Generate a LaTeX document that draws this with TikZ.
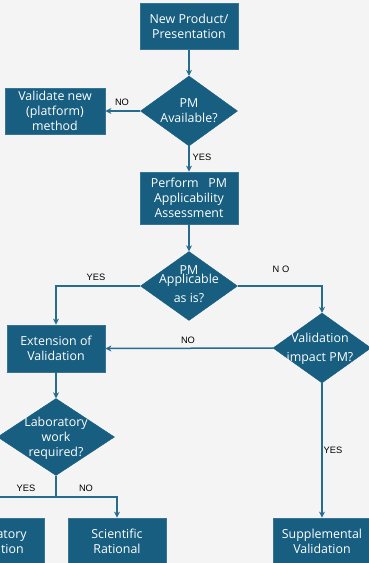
\documentclass[tikz,border=0pt]{standalone}
\usepackage{fontspec}
\setmainfont{Open Sans}
\newfontfamily\lblfont{Liberation Sans}
\usetikzlibrary{shapes.geometric,arrows.meta}
\definecolor{bg}{HTML}{F4F4F4}
\definecolor{boxfill}{HTML}{175E80}
\definecolor{boxline}{HTML}{3A7494}
\definecolor{conn}{HTML}{266C8E}
\tikzset{
  x=1pt, y=-1pt,
  box/.style={draw=boxline, line width=0.8pt, fill=boxfill, text=white, align=center,
    minimum width=98pt, minimum height=46pt, inner sep=0pt, font=\fontsize{12.4}{15}\selectfont},
  dia/.style={shape=diamond, fill=boxfill, draw=boxfill, inner sep=0pt},
  dtext/.style={text=white, align=center, font=\fontsize{12.4}{15}\selectfont},
  conn/.style={draw=conn, line width=1.5pt, -{Stealth[length=6pt,width=6pt]}},
  lbl/.style={font=\lblfont\fontsize{9.3}{11}\selectfont, text=black, inner sep=0pt}
}
\begin{document}
\begin{tikzpicture}
\clip (0,0) rectangle (369,563);
\fill[bg] (0,0) rectangle (369,563);

% boxes
\node[box] (b1) at (189,26.5) {New Product/\\Presentation};
\node[box, minimum width=100pt] (v) at (55,111) {Validate new\\(platform)\\method};
\node[box, minimum height=52pt] (b3) at (189,198) {Perform\ \ \ PM\\Applicability\\Assessment};
\node[box, minimum height=47pt] (ext) at (56,348.5) {Extension of\\Validation};
\node[box, minimum height=47pt] (lab) at (-5,541.5) {Laboratory\\Validation};
\node[box, minimum height=47pt] (sci) at (117,541.5) {Scientific\\Rational};
\node[box, minimum height=47pt] (sup) at (322,541.5) {Supplemental\\Validation};

% diamonds
\node[dia, minimum width=97pt, minimum height=70pt] (d1) at (189,111) {};
\node[dtext] (d1t) at (d1) {PM\\Available?};
\node[dia, minimum width=97pt, minimum height=69pt] (d2) at (189,286) {};
\node[dtext] (d2t) at (189,284) {PM\\[-6pt]Applicable\\[4pt]as is?};
\node[dia, minimum width=98pt, minimum height=70pt] (d3) at (322,348) {};
\node[dtext] (d3t) at (320,349) {Validation\\[4pt]impact PM?};
\node[dia, minimum width=117pt, minimum height=77pt] (d4) at (56,437) {};
\node[dtext] (d4t) at (56,438) {Laboratory\\work\\required?};

% connectors
\draw[conn] (b1.south) -- (d1.north);
\draw[conn] (d1.west) -- (v.east);
\draw[conn] (d1.south) -- (b3.north);
\draw[conn] (b3.south) -- (d2.north);
\draw[conn] (d2.west) -| (ext.north);
\draw[conn] (d2.east) -| (d3.north);
\draw[conn] (d3.west) -- (ext.east);
\draw[conn] (ext.south) -- (d4.north);
\draw[conn] (d3.south) -- (sup.north);
\coordinate (j) at (56,497);
\draw[draw=conn, line width=1.5pt] (d4.south) -- (j);
\draw[conn] (j) -| (lab.north);
\draw[conn] (j) -| (sci.north);

% labels
\node[lbl] (l1) at (122,102) {NO};
\node[lbl] (l2) at (202,157) {YES};
\node[lbl] (l3) at (96,277) {YES};
\node[lbl] (l4) at (281,269) {N O};
\node[lbl] (l5) at (188,340) {NO};
\node[lbl] (l6) at (333,450) {YES};
\node[lbl] (l7) at (26,488) {YES};
\node[lbl] (l8) at (86,488) {NO};
\end{tikzpicture}
\end{document}
